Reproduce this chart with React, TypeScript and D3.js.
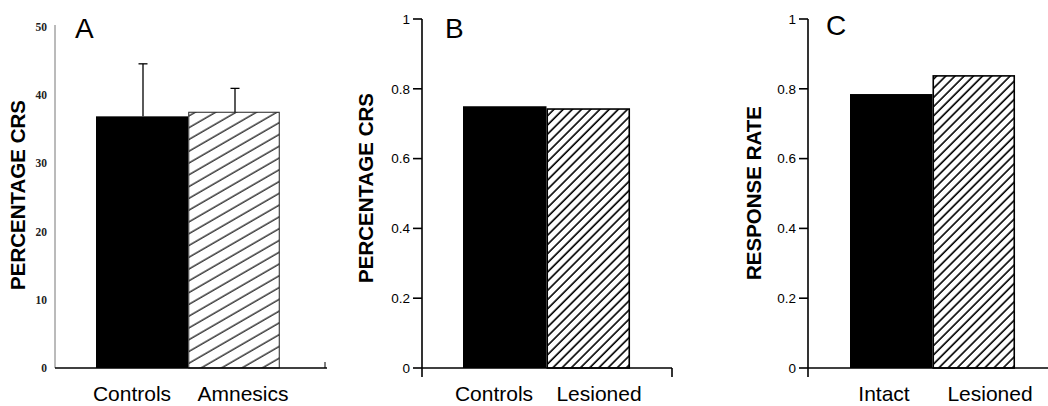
import React from 'react';
import * as d3 from 'd3';

// panel A: human eyeblink conditioning
const categoriesA = ['Controls', 'Amnesics'];
const valuesA = [36.9, 37.5];
const errorTopA = [44.6, 41.0];
const ticksA = [0, 10, 20, 30, 40, 50];

// panel B: simulated CRs
const categoriesB = ['Controls', 'Lesioned'];
const valuesB = [0.75, 0.742];

// panel C: response rate
const categoriesC = ['Intact', 'Lesioned'];
const valuesC = [0.785, 0.837];

const ticksBC = [0, 0.2, 0.4, 0.6, 0.8, 1];

const sans = '"Liberation Sans", Arial, Helvetica, sans-serif';

type Panel = {
  id: string;
  letter: string;
  title: string;
  categories: string[];
  values: number[];
  errors?: number[];
  ticks: number[];
  yMax: number;
  axisX: number;
  xEnd: number;
  yTopPx: number;
  barRange: [number, number];
  labelRange: [number, number];
  letterPos: [number, number];
  titlePos: [number, number];
  style: 'A' | 'BC';
};

const panels: Panel[] = [
  {
    id: 'a', letter: 'A', title: 'PERCENTAGE CRS',
    categories: categoriesA, values: valuesA, errors: errorTopA,
    ticks: ticksA, yMax: 50,
    axisX: 55, xEnd: 327, yTopPx: 27,
    barRange: [96, 280], labelRange: [132, 243],
    letterPos: [75, 38], titlePos: [25, 195], style: 'A',
  },
  {
    id: 'b', letter: 'B', title: 'PERCENTAGE CRS',
    categories: categoriesB, values: valuesB,
    ticks: ticksBC, yMax: 1,
    axisX: 422, xEnd: 672, yTopPx: 19,
    barRange: [463, 630], labelRange: [494, 599],
    letterPos: [445, 38], titlePos: [373, 188], style: 'BC',
  },
  {
    id: 'c', letter: 'C', title: 'RESPONSE RATE',
    categories: categoriesC, values: valuesC,
    ticks: ticksBC, yMax: 1,
    axisX: 808, xEnd: 1048, yTopPx: 19,
    barRange: [850, 1015], labelRange: [884, 990],
    letterPos: [826, 35], titlePos: [761, 193], style: 'BC',
  },
];

const ZERO = 368;

function ChartPanel({ p }: { p: Panel }) {
  const y = d3.scaleLinear().domain([0, p.yMax]).range([ZERO, p.yTopPx]);
  const x = d3.scaleBand<string>().domain(p.categories).range(p.barRange).padding(0);
  const lx = d3.scalePoint<string>().domain(p.categories).range(p.labelRange);
  const isA = p.style === 'A';
  const hatchId = `hatch-${p.id}`;

  return (
    <g>
      <defs>
        <pattern
          id={hatchId}
          patternUnits="userSpaceOnUse"
          width={40}
          height={isA ? 10.2 : 6.5}
          patternTransform={`rotate(${isA ? -30 : -45})`}
        >
          <rect width={40} height={isA ? 10.2 : 6.5} fill="#fff" />
          <line x1={0} x2={40} y1={1} y2={1} stroke="#000" strokeWidth={isA ? 1.1 : 1.6} />
        </pattern>
      </defs>

      {/* bars */}
      {p.categories.map((c, i) => {
        const x0 = x(c)!;
        const w = x.bandwidth();
        const top = y(p.values[i]);
        if (i === 0) {
          return <rect key={c} x={x0} y={top} width={w} height={ZERO - top} fill="#000" />;
        }
        return (
          <rect
            key={c}
            x={x0 + 0.75}
            y={top}
            width={w - 1.5}
            height={ZERO - top}
            fill={`url(#${hatchId})`}
            stroke={isA ? '#222' : '#000'}
            strokeWidth={isA ? 1 : 1.6}
          />
        );
      })}

      {/* error bars */}
      {p.errors &&
        p.categories.map((c, i) => {
          const cx = x(c)! + x.bandwidth() / 2 + 1;
          return (
            <g key={`e-${c}`} stroke="#000" strokeWidth={1.3}>
              <line x1={cx} x2={cx} y1={y(p.values[i])} y2={y(p.errors![i])} />
              <line x1={cx - 4.5} x2={cx + 4.5} y1={y(p.errors![i])} y2={y(p.errors![i])} />
            </g>
          );
        })}

      {/* axes */}
      {isA ? (
        <g>
          <line x1={p.axisX} x2={p.axisX} y1={25} y2={ZERO} stroke="#777" strokeWidth={1} />
          <line x1={p.axisX} x2={p.xEnd} y1={ZERO} y2={ZERO} stroke="#000" strokeWidth={1.5} />
          <line x1={p.xEnd - 2} x2={p.xEnd - 2} y1={ZERO} y2={ZERO - 6} stroke="#000" strokeWidth={1} />
          {p.ticks.map((t) => (
            <text
              key={t}
              x={p.axisX - 8}
              y={y(t)}
              dy="0.35em"
              textAnchor="end"
              fontFamily='"Liberation Serif", "Times New Roman", serif'
              fontWeight="bold"
              fontSize={11.5}
              fill="#222"
            >
              {t}
            </text>
          ))}
        </g>
      ) : (
        <g stroke="#000" strokeWidth={1.6}>
          <line x1={p.axisX} x2={p.axisX} y1={y(p.yMax)} y2={ZERO + 9} />
          <line x1={p.axisX} x2={p.xEnd} y1={ZERO} y2={ZERO} />
          {p.xEnd < 1040 && <line x1={p.xEnd} x2={p.xEnd} y1={ZERO} y2={ZERO + 9} />}
          {p.ticks.map((t) => (
            <g key={t}>
              <line x1={p.axisX - 9} x2={p.axisX} y1={y(t)} y2={y(t)} />
              <text
                x={p.axisX - 12}
                y={y(t)}
                dy="0.35em"
                textAnchor="end"
                fontFamily={sans}
                fontSize={13.5}
                stroke="none"
                fill="#000"
              >
                {t}
              </text>
            </g>
          ))}
        </g>
      )}

      {/* category labels */}
      {p.categories.map((c) => (
        <text key={`l-${c}`} x={lx(c)} y={401} textAnchor="middle" fontFamily={sans} fontSize={21} fill="#000">
          {c}
        </text>
      ))}

      {/* panel letter */}
      <text x={p.letterPos[0]} y={p.letterPos[1]} fontFamily={sans} fontSize={28} fill="#000">
        {p.letter}
      </text>

      {/* y title */}
      <text
        transform={`translate(${p.titlePos[0]},${p.titlePos[1]}) rotate(-90)`}
        textAnchor="middle"
        fontFamily={sans}
        fontWeight="bold"
        fontSize={20.5}
        fill="#000"
      >
        {p.title}
      </text>
    </g>
  );
}

export default function App() {
  return (
    <svg
      width={1048}
      height={406}
      style={{ position: 'absolute', left: 0, top: 0, background: '#fff' }}
    >
      <rect width={1048} height={406} fill="#fff" />
      {panels.map((p) => (
        <ChartPanel key={p.id} p={p} />
      ))}
    </svg>
  );
}
